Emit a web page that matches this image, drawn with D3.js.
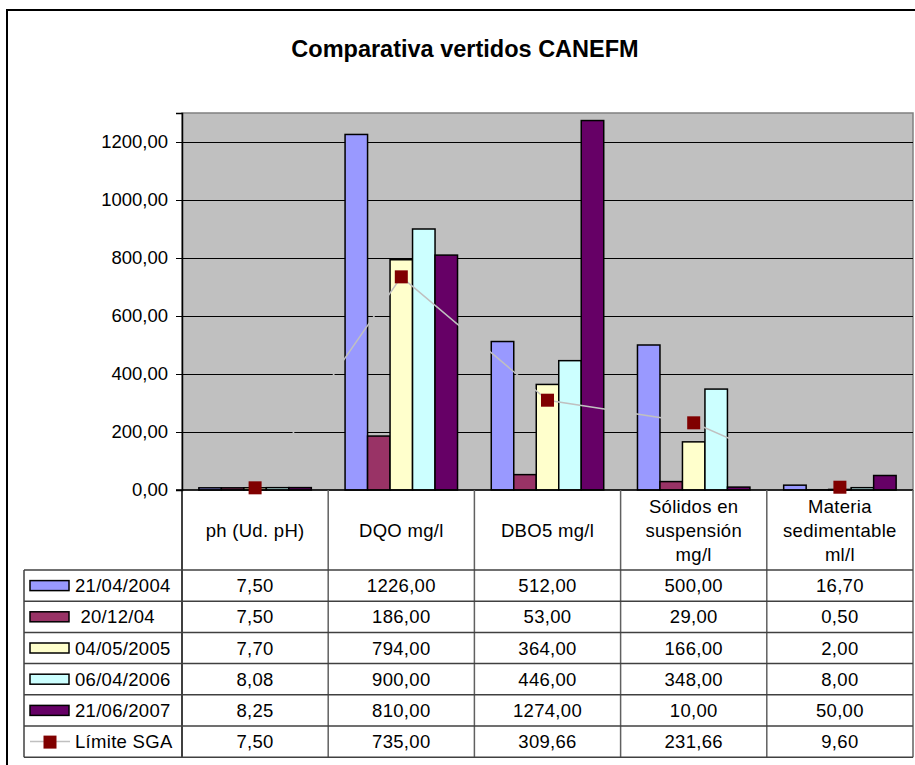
<!DOCTYPE html>
<html>
<head>
<meta charset="utf-8">
<script src="https://cdn.jsdelivr.net/npm/d3@7"></script>
<style>
    body { margin: 0; background: #fff; }
    svg { display: block; font-family: "Liberation Sans", Arial, sans-serif; }
</style>
</head>
<body>
<div id="chart"></div>
<script>
const title = "Comparativa vertidos CANEFM"
const categories = [
    ["ph (Ud. pH)"],
    ["DQO mg/l"],
    ["DBO5 mg/l"],
    ["Sólidos en", "suspensión", "mg/l"],
    ["Materia", "sedimentable", "ml/l"]
]
const seriesNames = ["21/04/2004", " 20/12/04", "04/05/2005", "06/04/2006", "21/06/2007"]
const seriesColors = ["#9999FF", "#993366", "#FFFFCC", "#CCFFFF", "#660066"]
const s2004 = [7.50, 1226.00, 512.00, 500.00, 16.70]
const s2004b = [7.50, 186.00, 53.00, 29.00, 0.50]
const s2005 = [7.70, 794.00, 364.00, 166.00, 2.00]
const s2006 = [8.08, 900.00, 446.00, 348.00, 8.00]
const s2007 = [8.25, 810.00, 1274.00, 10.00, 50.00]
const limiteName = "Límite SGA"
const limite = [7.50, 735.00, 309.66, 231.66, 9.60]
const yTicks = [0, 200, 400, 600, 800, 1000, 1200]

const allSeries = [s2004, s2004b, s2005, s2006, s2007]

const width = 915
const height = 765
const plot = { left: 182, right: 913, top: 113, bottom: 490 }
const table = { left: 24, headerBottom: 570, rowH: 31.2 }

const locale = d3.formatLocale({ decimal: ",", thousands: "", grouping: [3], currency: ["", ""] })
const fmt = locale.format(".2f")

const svg = d3.select("#chart").append("svg")
    .attr("width", width)
    .attr("height", height)

// outer chart frame (clipped by window on right / bottom)
svg.append("rect")
    .attr("x", 7).attr("y", 10)
    .attr("width", 930).attr("height", 780)
    .attr("fill", "#fff")
    .attr("stroke", "#000")
    .attr("stroke-width", 2)

svg.append("text")
    .attr("x", 465)
    .attr("y", 57)
    .attr("text-anchor", "middle")
    .attr("font-size", "23.5px")
    .attr("font-weight", "bold")
    .text(title)

const x = d3.scaleBand()
    .domain(d3.range(categories.length))
    .range([plot.left, plot.right])

const xInner = d3.scaleBand()
    .domain(d3.range(allSeries.length))
    .range([0, x.bandwidth()])
    .paddingOuter(0.75)

const y = d3.scaleLinear()
    .domain([0, 1300])
    .range([plot.bottom, plot.top])

// plot background
svg.append("rect")
    .attr("x", plot.left).attr("y", plot.top)
    .attr("width", plot.right - plot.left)
    .attr("height", plot.bottom - plot.top)
    .attr("fill", "#C0C0C0")
    .attr("stroke", "#808080")
    .attr("stroke-width", 1.5)

// gridlines
svg.append("g")
    .selectAll("line")
    .data(yTicks.filter(d => d > 0))
    .enter()
    .append("line")
    .attr("x1", plot.left).attr("x2", plot.right)
    .attr("y1", d => Math.round(y(d)) + 0.5)
    .attr("y2", d => Math.round(y(d)) + 0.5)
    .attr("stroke", "#000")
    .attr("stroke-width", 1)

// y axis
const yAxis = svg.append("g")
    .attr("transform", "translate(" + plot.left + ",0)")
    .call(d3.axisLeft(y).tickValues(yTicks).tickSize(6).tickPadding(8).tickFormat(fmt))
yAxis.select(".domain").attr("stroke", "#000").attr("stroke-width", 1.5)
yAxis.selectAll(".tick line").attr("stroke", "#000")
yAxis.selectAll("text")
    .attr("font-size", "18.5px")
    .attr("font-family", "Liberation Sans, Arial, sans-serif")
    .attr("fill", "#000")

// bars
const barGroups = svg.append("g")
    .selectAll("g")
    .data(allSeries)
    .enter()
    .append("g")
    .attr("fill", (d, i) => seriesColors[i])

barGroups.each(function (values, si) {
    d3.select(this).selectAll("rect")
        .data(values)
        .enter()
        .append("rect")
        .attr("x", (d, ci) => x(ci) + xInner(si))
        .attr("width", xInner.bandwidth())
        .attr("y", d => y(d))
        .attr("height", d => y(0) - y(d))
        .attr("stroke", "#000")
        .attr("stroke-width", 1.5)
})

// baseline
svg.append("line")
    .attr("x1", plot.left - 6).attr("x2", plot.right)
    .attr("y1", plot.bottom).attr("y2", plot.bottom)
    .attr("stroke", "#000")
    .attr("stroke-width", 1.5)

// limit line (same grey as plot area, so it only shows over bars / gridlines) + markers
const line = d3.line()
    .x((d, i) => x(i) + x.bandwidth() / 2)
    .y(d => y(d))

svg.append("path")
    .datum(limite)
    .attr("d", line)
    .attr("fill", "none")
    .attr("stroke", "#C0C0C0")
    .attr("stroke-width", 1.5)

svg.append("g")
    .selectAll("rect")
    .data(limite)
    .enter()
    .append("rect")
    .attr("x", (d, i) => x(i) + x.bandwidth() / 2 - 6.5)
    .attr("y", d => y(d) - 6.5)
    .attr("width", 13)
    .attr("height", 13)
    .attr("fill", "#800000")

// data table
const tableBottom = table.headerBottom + (allSeries.length + 1) * table.rowH
const tbl = svg.append("g")

// category separators down through table
tbl.selectAll(".vsep")
    .data(d3.range(categories.length + 1))
    .enter()
    .append("line")
    .attr("x1", i => i < categories.length ? x(i) : plot.right)
    .attr("x2", i => i < categories.length ? x(i) : plot.right)
    .attr("y1", plot.bottom)
    .attr("y2", tableBottom)
    .attr("stroke", i => i === 0 ? "#000" : "#606060")
    .attr("stroke-width", 1.5)

// left edge of legend column
tbl.append("line")
    .attr("x1", table.left).attr("x2", table.left)
    .attr("y1", table.headerBottom).attr("y2", tableBottom)
    .attr("stroke", "#404040")
    .attr("stroke-width", 1.5)

// row lines
tbl.selectAll(".hrow")
    .data(d3.range(allSeries.length + 2))
    .enter()
    .append("line")
    .attr("x1", table.left).attr("x2", plot.right)
    .attr("y1", i => table.headerBottom + i * table.rowH)
    .attr("y2", i => table.headerBottom + i * table.rowH)
    .attr("stroke", "#404040")
    .attr("stroke-width", 1.5)

// header texts
tbl.selectAll(".hdr")
    .data(categories)
    .enter()
    .append("text")
    .attr("text-anchor", "middle")
    .attr("font-size", "18.5px")
    .attr("letter-spacing", "0.3px")
    .each(function (lines, ci) {
        const cx = x(ci) + x.bandwidth() / 2
        const mid = (plot.bottom + table.headerBottom) / 2
        const lh = 24
        const t = d3.select(this)
        lines.forEach((ln, k) => {
            t.append("tspan")
                .attr("x", cx)
                .attr("y", mid + (k - (lines.length - 1) / 2) * lh)
                .attr("dy", "0.36em")
                .text(ln)
        })
    })

const rowsData = allSeries.concat([limite])
const rowNames = seriesNames.concat([limiteName])

const rows = tbl.selectAll(".row")
    .data(rowsData)
    .enter()
    .append("g")
    .attr("transform", (d, i) => "translate(0," + (table.headerBottom + i * table.rowH + table.rowH / 2) + ")")

rows.selectAll("text.val")
    .data(d => d)
    .enter()
    .append("text")
    .attr("class", "val")
    .attr("x", (d, ci) => x(ci) + x.bandwidth() / 2)
    .attr("dy", "0.36em")
    .attr("text-anchor", "middle")
    .attr("font-size", "18.5px")
    .attr("letter-spacing", "0.3px")
    .text(d => fmt(d))

rows.append("text")
    .attr("x", 75)
    .attr("dy", "0.36em")
    .attr("font-size", "18.5px")
    .attr("letter-spacing", "0.3px")
    .attr("xml:space", "preserve")
    .style("white-space", "pre")
    .text((d, i) => rowNames[i])

// legend keys
rows.filter((d, i) => i < allSeries.length)
    .append("rect")
    .attr("x", 30).attr("y", -5)
    .attr("width", 39).attr("height", 10)
    .attr("fill", (d, i) => seriesColors[i])
    .attr("stroke", "#000")
    .attr("stroke-width", 1.5)

const lastRow = rows.filter((d, i) => i === allSeries.length)
lastRow.append("line")
    .attr("x1", 30).attr("x2", 70)
    .attr("y1", 0).attr("y2", 0)
    .attr("stroke", "#C0C0C0")
    .attr("stroke-width", 1.5)
lastRow.append("rect")
    .attr("x", 43.5).attr("y", -6)
    .attr("width", 13).attr("height", 13)
    .attr("fill", "#800000")
</script>
</body>
</html>
